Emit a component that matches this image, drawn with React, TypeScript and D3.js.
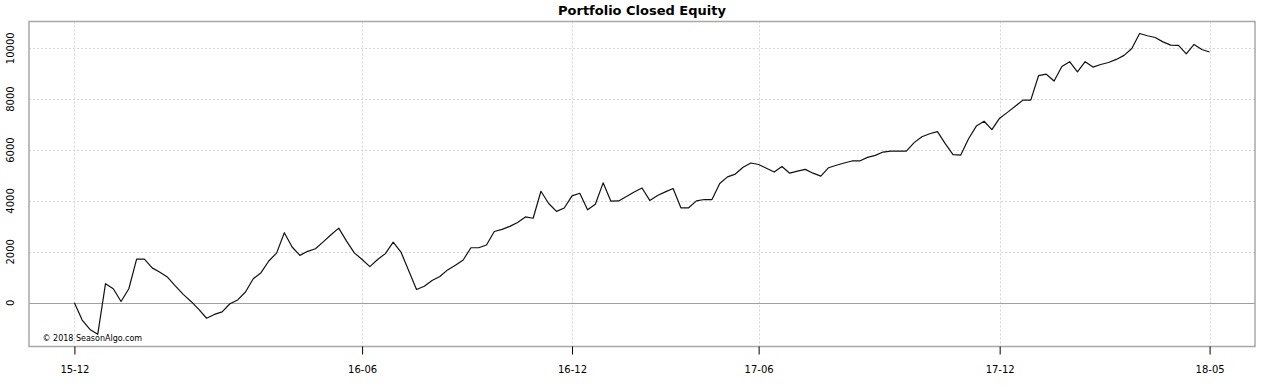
import React, { useEffect, useRef } from 'react';
import * as d3 from 'd3';

// closed equity, one value per trade close
const equity = [
  0, -680, -1050, -1240, 750, 550, 50, 550, 1710, 1710,
  1370, 1200, 1000, 650, 330, 50, -260, -610, -460, -360,
  -40, 110, 420, 940, 1180, 1640, 1950, 2750, 2190, 1860,
  2020, 2120, 2390, 2670, 2930, 2420, 1960, 1700, 1420, 1700,
  1930, 2380, 1990, 1260, 520, 650, 870, 1030, 1290, 1470,
  1680, 2160, 2160, 2270, 2800, 2880, 3000, 3150, 3370, 3320,
  4380, 3900, 3590, 3720, 4200, 4300, 3650, 3870, 4710, 3990,
  4000, 4170, 4350, 4510, 4020, 4215, 4355, 4490, 3730, 3730,
  4000, 4055, 4055, 4685, 4945, 5055, 5325, 5490, 5430, 5285,
  5135, 5350, 5090, 5170, 5240, 5090, 4975, 5305, 5400, 5490,
  5570, 5570, 5710, 5790, 5920, 5960, 5960, 5960, 6290, 6520,
  6640, 6720, 6250, 5820, 5800, 6445, 6940, 7130, 6800, 7250,
  7480, 7720, 7960, 7960, 8920, 8980, 8710, 9280, 9470, 9070,
  9470, 9260, 9360, 9440, 9560, 9720, 9990, 10580, 10490, 10420,
  10250, 10120, 10110, 9780, 10150, 9950, 9850
];

const xTickIdx = [0, 37, 64, 88, 119, 146];
const xTickLabels = ['15-12', '16-06', '16-12', '17-06', '17-12', '18-05'];
const yTicks = [0, 2000, 4000, 6000, 8000, 10000];

const width = 1263;
const height = 390;
const font = "'DejaVu Sans', sans-serif";

const EquityChart: React.FC = () => {
  const svgRef = useRef<SVGSVGElement>(null);

  useEffect(() => {
    if (!svgRef.current) return;
    const svg = d3.select(svgRef.current);
    svg.selectAll('*').remove();

    const box = { left: 29, top: 21.5, right: 1255, bottom: 346.5 };
    const n = equity.length - 1;
    const padX = n * 0.04;

    const x = d3.scaleLinear()
      .domain([-padX, n + padX])
      .range([box.left, box.right]);

    const y = d3.scaleLinear()
      .domain([-1720, 11050])
      .range([box.bottom, box.top]);

    svg.append('rect')
      .attr('width', width)
      .attr('height', height)
      .attr('fill', '#ffffff');

    // Title
    svg.append('text')
      .attr('x', (box.left + box.right) / 2)
      .attr('y', 15)
      .attr('text-anchor', 'middle')
      .attr('font-family', font)
      .attr('font-size', '13px')
      .attr('font-weight', '700')
      .attr('fill', '#000')
      .text('Portfolio Closed Equity');

    // Grid
    svg.append('g')
      .selectAll('line')
      .data(yTicks)
      .enter().append('line')
      .attr('x1', box.left)
      .attr('x2', box.right)
      .attr('y1', d => Math.round(y(d)) + 0.5)
      .attr('y2', d => Math.round(y(d)) + 0.5)
      .attr('stroke', '#d6d6d6')
      .attr('stroke-dasharray', '2,2');

    svg.append('g')
      .selectAll('line')
      .data(xTickIdx)
      .enter().append('line')
      .attr('x1', d => Math.round(x(d)) + 0.5)
      .attr('x2', d => Math.round(x(d)) + 0.5)
      .attr('y1', box.top)
      .attr('y2', box.bottom)
      .attr('stroke', '#d6d6d6')
      .attr('stroke-dasharray', '2,2');

    // zero line
    svg.append('line')
      .attr('x1', box.left)
      .attr('x2', box.right)
      .attr('y1', Math.round(y(0)) + 0.5)
      .attr('y2', Math.round(y(0)) + 0.5)
      .attr('stroke', '#a0a0a0')
      .attr('stroke-width', 1.2);

    // Box
    svg.append('rect')
      .attr('x', box.left)
      .attr('y', box.top)
      .attr('width', box.right - box.left)
      .attr('height', box.bottom - box.top)
      .attr('fill', 'none')
      .attr('stroke', '#a8a8a8')
      .attr('stroke-width', 1.5);

    // X axis
    const xAxis = svg.append('g')
      .attr('transform', `translate(0,${box.bottom})`)
      .call(d3.axisBottom(x)
        .tickValues(xTickIdx)
        .tickFormat((_, i) => xTickLabels[i])
        .tickSize(8)
        .tickSizeOuter(0)
        .tickPadding(11));
    xAxis.select('.domain').remove();
    xAxis.selectAll('line').attr('stroke', '#000');
    xAxis.selectAll('text')
      .attr('font-family', font)
      .attr('font-size', '10px')
      .attr('fill', '#000');

    // Y axis labels (rotated, no ticks)
    svg.append('g')
      .selectAll('text')
      .data(yTicks)
      .enter().append('text')
      .attr('transform', d => `translate(14,${y(d)}) rotate(-90)`)
      .attr('text-anchor', 'middle')
      .attr('font-family', font)
      .attr('font-size', '10px')
      .attr('fill', '#000')
      .text(d => String(d));

    // Line
    const line = d3.line<number>()
      .x((_, i) => x(i))
      .y(d => y(d));

    svg.append('path')
      .datum(equity)
      .attr('fill', 'none')
      .attr('stroke', '#111')
      .attr('stroke-width', 1.2)
      .attr('stroke-linejoin', 'round')
      .attr('d', line);

    // Copyright
    svg.append('text')
      .attr('x', 42.5)
      .attr('y', 341)
      .attr('font-family', font)
      .attr('font-size', '8px')
      .attr('fill', '#000')
      .text('\u00a9 2018 SeasonAlgo.com');
  }, []);

  return (
    <svg
      ref={svgRef}
      width={width}
      height={height}
      viewBox={`0 0 ${width} ${height}`}
      style={{ display: 'block' }}
    />
  );
};

export default function App() {
  return (
    <div style={{ position: 'absolute', left: 0, top: 0 }}>
      <EquityChart />
    </div>
  );
}
